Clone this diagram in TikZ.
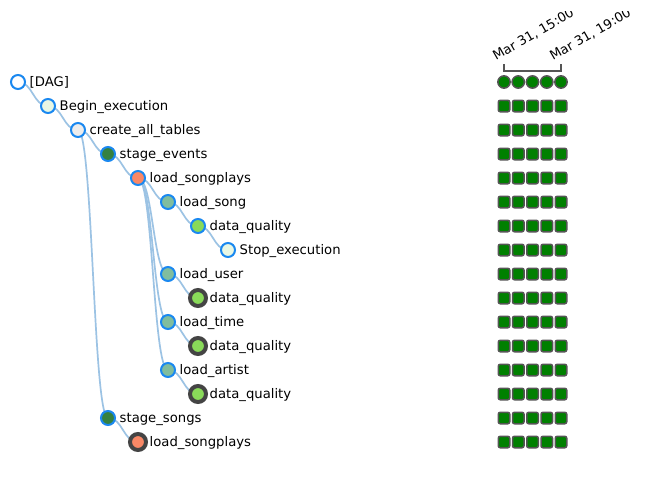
\documentclass[tikz,border=0pt]{standalone}
\usepackage{fontspec}
\setmainfont{DejaVu Sans}
\usetikzlibrary{calc}
\pgfdeclarelayer{bg}
\pgfdeclarelayer{canvas}
\pgfsetlayers{canvas,bg,main}
\definecolor{nodeblue}{HTML}{1A88F0}
\definecolor{dupgrey}{HTML}{444444}
\definecolor{linkblue}{HTML}{9CC3E4}
\definecolor{cDummy}{HTML}{E8F7E4}
\definecolor{cPg}{HTML}{EDEDED}
\definecolor{cStage}{HTML}{358140}
\definecolor{cFact}{HTML}{F98866}
\definecolor{cDim}{HTML}{80BD9E}
\definecolor{cDq}{HTML}{89DA59}
\definecolor{cOk}{HTML}{008000}
\definecolor{cEdge}{HTML}{555555}
\tikzset{
  tnode/.style={circle, draw=nodeblue, line width=2pt, minimum size=14pt, inner sep=0pt},
  dupnode/.style={circle, draw=dupgrey, line width=4pt, minimum size=16pt, inner sep=0pt},
  lbl/.style={anchor=base west, inner sep=0pt, font=\fontsize{13.2}{15}\selectfont, text=black},
  hdr/.style={anchor=base west, inner sep=0pt, rotate=30, font=\fontsize{13}{15}\selectfont, text=black},
  link/.style={draw=linkblue, line width=1.7pt},
  sq/.style={rectangle, rounded corners=2pt, draw=cEdge, fill=cOk, line width=1.5pt, minimum size=11.5pt, inner sep=0pt},
  dot/.style={circle, draw=cEdge, fill=cOk, line width=1.5pt, minimum size=12.3pt, inner sep=0pt},
  bracket/.style={draw=cEdge, line width=2pt}
}
\newcommand\treelink[2]{\draw[link] let \p1=(#1), \p2=(#2) in (\p1) .. controls ({0.5*\x1+0.5*\x2},\y1) and ({0.5*\x1+0.5*\x2},\y2) .. (\p2);}
\begin{document}
\begin{tikzpicture}[x=1pt,y=-1pt]
\begin{pgfonlayer}{canvas}
\fill[white] (0,0) rectangle (665,483);
\end{pgfonlayer}
\useasboundingbox (0,0) rectangle (665,483);
% tree nodes
\node[tnode, fill=white]  (n0)  at (18,82)  {};
\node[tnode, fill=cDummy] (n1)  at (48,106) {};
\node[tnode, fill=cPg]    (n2)  at (78,130) {};
\node[tnode, fill=cStage] (n3)  at (108,154) {};
\node[tnode, fill=cFact]  (n4)  at (138,178) {};
\node[tnode, fill=cDim]   (n5)  at (168,202) {};
\node[tnode, fill=cDq]    (n6)  at (198,226) {};
\node[tnode, fill=cDummy] (n7)  at (228,250) {};
\node[tnode, fill=cDim]   (n8)  at (168,274) {};
\node[dupnode, fill=cDq]  (n9)  at (198,298) {};
\node[tnode, fill=cDim]   (n10) at (168,322) {};
\node[dupnode, fill=cDq]  (n11) at (198,346) {};
\node[tnode, fill=cDim]   (n12) at (168,370) {};
\node[dupnode, fill=cDq]  (n13) at (198,394) {};
\node[tnode, fill=cStage] (n14) at (108,418) {};
\node[dupnode, fill=cFact](n15) at (138,442) {};
% labels
\node[lbl] (l0)  at ($(n0)+(11.5,4.6)$)  {[DAG]};
\node[lbl] (l1)  at ($(n1)+(11.5,4.6)$)  {Begin\_execution};
\node[lbl] (l2)  at ($(n2)+(11.5,4.6)$)  {create\_all\_tables};
\node[lbl] (l3)  at ($(n3)+(11.5,4.6)$)  {stage\_events};
\node[lbl] (l4)  at ($(n4)+(11.5,4.6)$)  {load\_songplays};
\node[lbl] (l5)  at ($(n5)+(11.5,4.6)$)  {load\_song};
\node[lbl] (l6)  at ($(n6)+(11.5,4.6)$)  {data\_quality};
\node[lbl] (l7)  at ($(n7)+(11.5,4.6)$)  {Stop\_execution};
\node[lbl] (l8)  at ($(n8)+(11.5,4.6)$)  {load\_user};
\node[lbl] (l9)  at ($(n9)+(11.5,4.6)$)  {data\_quality};
\node[lbl] (l10) at ($(n10)+(11.5,4.6)$) {load\_time};
\node[lbl] (l11) at ($(n11)+(11.5,4.6)$) {data\_quality};
\node[lbl] (l12) at ($(n12)+(11.5,4.6)$) {load\_artist};
\node[lbl] (l13) at ($(n13)+(11.5,4.6)$) {data\_quality};
\node[lbl] (l14) at ($(n14)+(11.5,4.6)$) {stage\_songs};
\node[lbl] (l15) at ($(n15)+(11.5,4.6)$) {load\_songplays};
% links
\begin{pgfonlayer}{bg}
\treelink{n0}{n1}
\treelink{n1}{n2}
\treelink{n2}{n3}
\treelink{n2}{n14}
\treelink{n3}{n4}
\treelink{n4}{n5}
\treelink{n4}{n8}
\treelink{n4}{n10}
\treelink{n4}{n12}
\treelink{n5}{n6}
\treelink{n6}{n7}
\treelink{n8}{n9}
\treelink{n10}{n11}
\treelink{n12}{n13}
\treelink{n14}{n15}
\end{pgfonlayer}
% status grid
\foreach \c [count=\ci from 0] in {504,518.25,532.5,546.75,561} {
  \node[dot] (g-0-\ci) at (\c,82) {};
  \foreach \r in {1,...,15} {
    \node[sq] (g-\r-\ci) at (\c,{82+24*\r}) {};
  }
}
% header
\draw[bracket] ($(g-0-0)+(0,-18)$) -- ($(g-0-0)+(0,-11.5)$) -- ($(g-0-4)+(0,-11.5)$) -- ($(g-0-4)+(0,-18)$);
\begin{scope}
\clip (0,11) rectangle (631,483);
\node[hdr] (h0) at (496,61) {Mar 31, 15:00};
\node[hdr] (h1) at (553,61) {Mar 31, 19:00};
\end{scope}
\end{tikzpicture}
\end{document}
